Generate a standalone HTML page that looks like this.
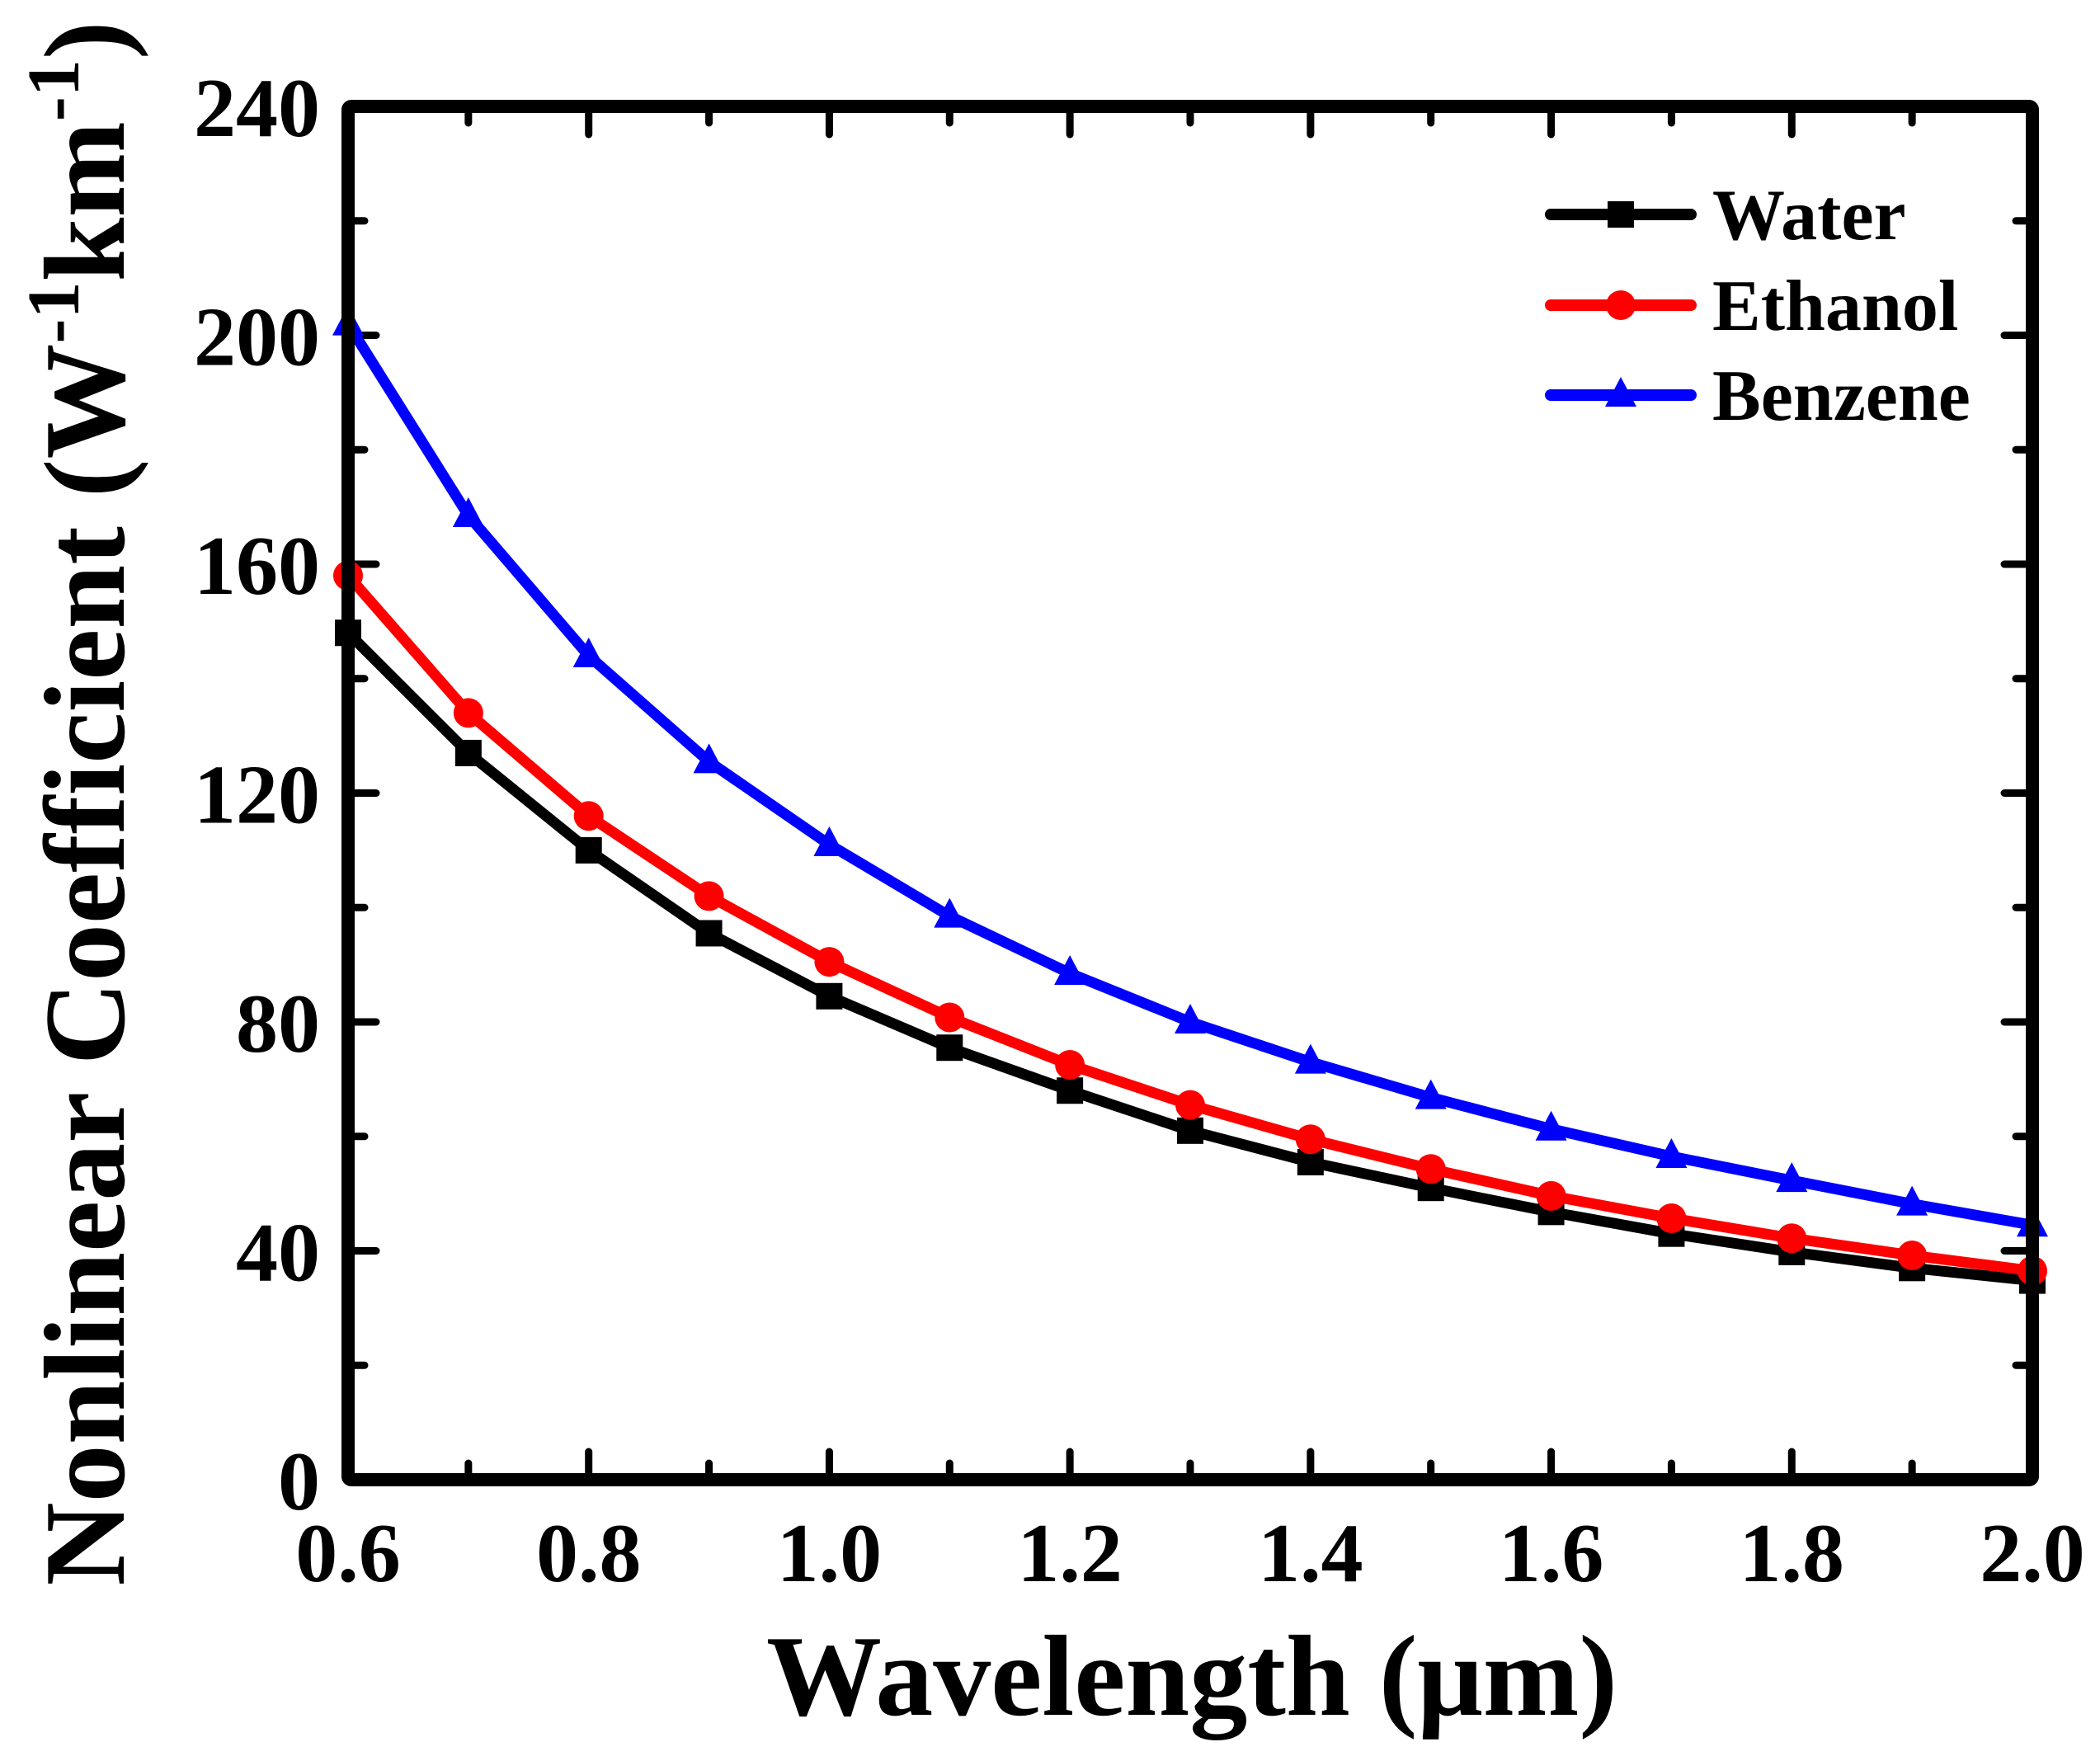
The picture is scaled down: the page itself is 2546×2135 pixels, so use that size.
<!DOCTYPE html>
<html><head><meta charset="utf-8"><style>
html,body{margin:0;padding:0;background:#fff;}
svg{display:block;font-family:"Liberation Serif",serif;font-weight:bold;}
</style></head><body>
<svg id="chart" width="2546" height="2135" viewBox="0 0 2546 2135" xmlns="http://www.w3.org/2000/svg">
<g id="ticks"></g>
<g id="series"></g>
<rect x="422" y="129" width="2042" height="1665" fill="none" stroke="#000" stroke-width="16" rx="4"/>
<g id="labels" font-size="102"></g>
<text x="1445" y="2079" font-size="140" text-anchor="middle">Wavelength (μm)</text>
<text transform="translate(150,974) rotate(-90)" font-size="140" text-anchor="middle">Nonlinear Coefficient (W<tspan dy="-55" font-size="90">-1</tspan><tspan dy="55">km</tspan><tspan dy="-55" font-size="90">-1</tspan><tspan dy="55">)</tspan></text>
<g id="legend"></g>
</svg>
<script>
const wavelengths=[0.6,0.7,0.8,0.9,1.0,1.1,1.2,1.3,1.4,1.5,1.6,1.7,1.8,1.9,2.0];
const water=[148,127,110,95.5,84.5,75.5,68,61,55.5,51,46.8,43,39.8,37,34.8];
const ethanol=[158,134,116,102,90.5,80.8,72.5,65.5,59.5,54.3,49.6,45.7,42.2,39.2,36.5];
const benzene=[202,168.5,144,125.5,111,98.5,88.5,80,73,66.8,61.3,56.5,52.3,48.2,44.5];
const xTicks=["0.6","0.8","1.0","1.2","1.4","1.6","1.8","2.0"];
const yTicks=["0","40","80","120","160","200","240"];
const seriesNames=["Water","Ethanol","Benzene"];

const NS="http://www.w3.org/2000/svg";
const X0=422,X1=2464,Y0=1794,Y1=129;
function xs(v){return X0+(v-0.6)/(2.0-0.6)*(X1-X0);}
function ys(v){return Y0-(v/240)*(Y0-Y1);}
function mk(tag,attrs,parent){const e=document.createElementNS(NS,tag);for(const k in attrs)e.setAttribute(k,attrs[k]);parent.appendChild(e);return e;}

const tg=document.getElementById('ticks');
for(let i=0;i<=14;i++){
  const v=0.6+i*0.1, x=xs(v), L=(i%2==0)?34:20;
  let t=mk('line',{x1:x,x2:x,y1:Y0,y2:Y0-L,stroke:'#000','stroke-width':9,'stroke-linecap':'round'},tg);
  
  
  t=mk('line',{x1:x,x2:x,y1:Y1,y2:Y1+L,stroke:'#000','stroke-width':9,'stroke-linecap':'round'},tg);
  
  
}
for(let i=0;i<=12;i++){
  const v=i*20, y=ys(v), L=(i%2==0)?34:20;
  let t=mk('line',{x1:X0,x2:X0+L,y1:y,y2:y,stroke:'#000','stroke-width':9,'stroke-linecap':'round'},tg);
  
  
  t=mk('line',{x1:X1,x2:X1-L,y1:y,y2:y,stroke:'#000','stroke-width':9,'stroke-linecap':'round'},tg);
  
  
}
const lg=document.getElementById('labels');
xTicks.forEach(s=>{
  const t=mk('text',{x:xs(parseFloat(s)),y:1917,'text-anchor':'middle'},lg);
  t.textContent=s;
  
  
});
yTicks.forEach(s=>{
  const t=mk('text',{x:388,y:ys(parseFloat(s))+36,'text-anchor':'end'},lg);
  t.textContent=s;
  
  
});

function marker(kind,x,y,color,parent){
  let m;
  if(kind==='square') m=mk('rect',{x:x-16,y:y-16,width:32,height:32,fill:color},parent);
  else if(kind==='circle') m=mk('circle',{cx:x,cy:y,r:18,fill:color},parent);
  else m=mk('polygon',{points:`${x},${y-22} ${x+19},${y+14} ${x-19},${y+14}`,fill:color},parent);
  return m;
}
const sg=document.getElementById('series');
const defs=[[water,'#000','square','water'],[ethanol,'#ff0000','circle','ethanol'],[benzene,'#0000ff','triangle','benzene']];
defs.forEach(([vals,color,kind,name])=>{
  const g=mk('g',{},sg);
  
  
  const pts=vals.map((v,i)=>xs(wavelengths[i])+','+ys(v)).join(' ');
  const pl=mk('polyline',{points:pts,fill:'none',stroke:color,'stroke-width':13,'stroke-linejoin':'round'},g);
  
  
  vals.forEach((v,i)=>{
    const m=marker(kind,xs(wavelengths[i]),ys(v),color,g);
    
    
  });
});
const leg=document.getElementById('legend');
const legY=[260,370,479];
defs.forEach(([vals,color,kind,name],i)=>{
  const g=mk('g',{},leg);
  
  
  mk('line',{x1:1880,x2:2050,y1:legY[i],y2:legY[i],stroke:color,'stroke-width':14,'stroke-linecap':'round'},g);
  marker(kind,1965,legY[i],color,g);
  const t=mk('text',{x:2076,y:legY[i]+30,'font-size':88},g);
  t.textContent=seriesNames[i];
});
</script>
</body></html>
